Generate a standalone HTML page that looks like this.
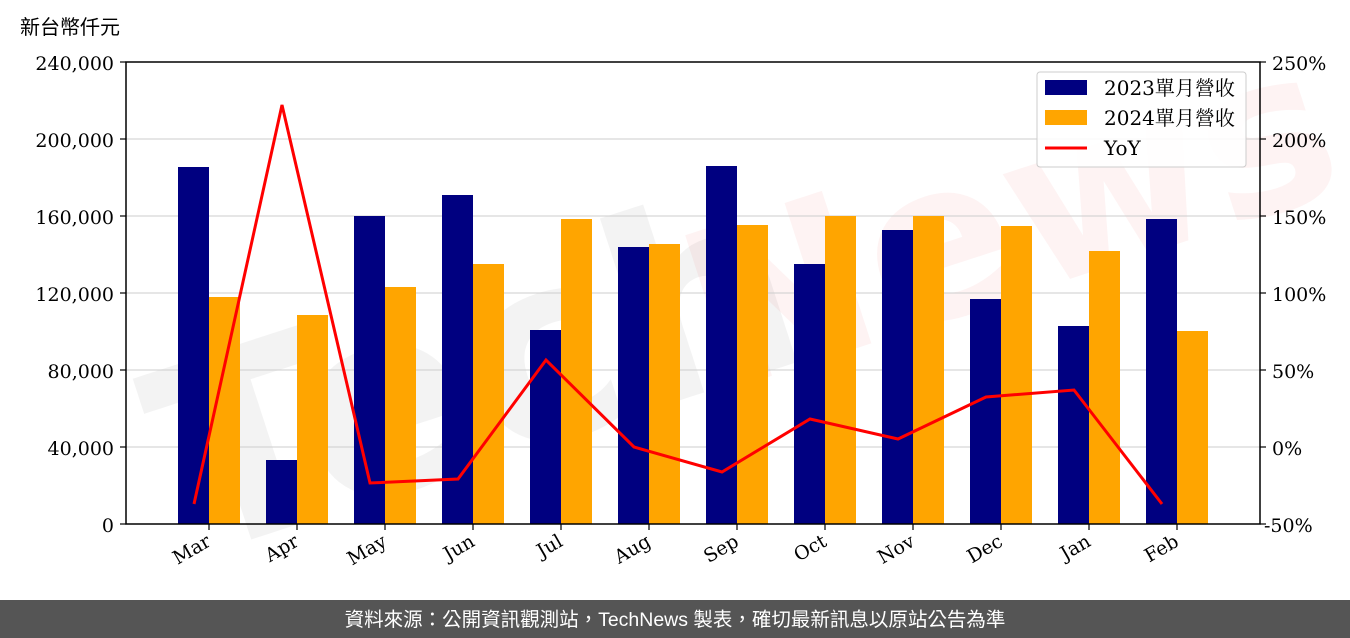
<!DOCTYPE html>
<html><head><meta charset="utf-8"><style>
html,body{margin:0;padding:0;background:#fff;width:1350px;height:638px;overflow:hidden}
</style></head><body>
<svg width="1350" height="638" viewBox="0 0 1350 638" xmlns="http://www.w3.org/2000/svg">
<g font-family="'DejaVu Serif','Liberation Serif',serif" font-size="19" fill="#000">
<text x="20" y="34" font-family="'Liberation Sans','Noto Sans CJK TC',sans-serif" font-size="20">新台幣仟元</text>
<!-- watermark -->
<text x="130" y="420" font-family="'DejaVu Sans',sans-serif" font-size="260" font-weight="bold" fill="#000" opacity="0.045" transform="rotate(-18 600 300)">Tech</text>
<text x="680" y="330" font-family="'DejaVu Sans',sans-serif" font-size="220" font-weight="bold" fill="#e00" opacity="0.045" transform="rotate(-18 900 250)">News</text>
<!-- grid -->
<g stroke="#ccc" stroke-width="1">
<line x1="126" x2="1260" y1="139" y2="139"/><line x1="126" x2="1260" y1="216" y2="216"/>
<line x1="126" x2="1260" y1="293" y2="293"/><line x1="126" x2="1260" y1="370" y2="370"/>
<line x1="126" x2="1260" y1="447" y2="447"/>
</g>
<!-- bars -->
<g fill="#000080">
<rect x="178" y="167" width="31" height="357"/><rect x="266" y="460" width="31" height="64"/>
<rect x="354" y="216" width="31" height="308"/><rect x="442" y="195" width="31" height="329"/>
<rect x="530" y="330" width="31" height="194"/><rect x="618" y="247" width="31" height="277"/>
<rect x="706" y="166" width="31" height="358"/><rect x="794" y="264" width="31" height="260"/>
<rect x="882" y="230" width="31" height="294"/><rect x="970" y="299" width="31" height="225"/>
<rect x="1058" y="326" width="31" height="198"/><rect x="1146" y="219" width="31" height="305"/>
</g>
<g fill="#ffa500">
<rect x="209" y="297" width="31" height="227"/><rect x="297" y="315" width="31" height="209"/>
<rect x="385" y="287" width="31" height="237"/><rect x="473" y="264" width="31" height="260"/>
<rect x="561" y="219" width="31" height="305"/><rect x="649" y="244" width="31" height="280"/>
<rect x="737" y="225" width="31" height="299"/><rect x="825" y="216" width="31" height="308"/>
<rect x="913" y="216" width="31" height="308"/><rect x="1001" y="226" width="31" height="298"/>
<rect x="1089" y="251" width="31" height="273"/><rect x="1177" y="331" width="31" height="193"/>
</g>
<polyline fill="none" stroke="#f00" stroke-width="3" points="194,504 282,105 370,483 458,479 546,360 634,447 722,472 810,419 898,439 986,397 1074,390 1162,504"/>
<!-- axes -->
<rect x="126" y="62" width="1134" height="462" fill="none" stroke="#000" stroke-width="1.5"/>
<g stroke="#000" stroke-width="1.2">
<line x1="120" x2="126" y1="62" y2="62"/><line x1="120" x2="126" y1="139" y2="139"/><line x1="120" x2="126" y1="216" y2="216"/><line x1="120" x2="126" y1="293" y2="293"/><line x1="120" x2="126" y1="370" y2="370"/><line x1="120" x2="126" y1="447" y2="447"/><line x1="120" x2="126" y1="524" y2="524"/>
<line x1="1260" x2="1266" y1="62" y2="62"/><line x1="1260" x2="1266" y1="139" y2="139"/><line x1="1260" x2="1266" y1="216" y2="216"/><line x1="1260" x2="1266" y1="293" y2="293"/><line x1="1260" x2="1266" y1="370" y2="370"/><line x1="1260" x2="1266" y1="447" y2="447"/><line x1="1260" x2="1266" y1="524" y2="524"/>
<line x1="209" x2="209" y1="524" y2="530"/><line x1="297" x2="297" y1="524" y2="530"/><line x1="385" x2="385" y1="524" y2="530"/><line x1="473" x2="473" y1="524" y2="530"/><line x1="561" x2="561" y1="524" y2="530"/><line x1="649" x2="649" y1="524" y2="530"/><line x1="737" x2="737" y1="524" y2="530"/><line x1="825" x2="825" y1="524" y2="530"/><line x1="913" x2="913" y1="524" y2="530"/><line x1="1001" x2="1001" y1="524" y2="530"/><line x1="1089" x2="1089" y1="524" y2="530"/><line x1="1177" x2="1177" y1="524" y2="530"/>
</g>
<g text-anchor="end">
<text x="114" y="70">240,000</text><text x="114" y="147">200,000</text><text x="114" y="224">160,000</text><text x="114" y="301">120,000</text><text x="114" y="378">80,000</text><text x="114" y="455">40,000</text><text x="114" y="532">0</text>
</g>
<g text-anchor="start">
<text x="1272" y="70">250%</text><text x="1272" y="147">200%</text><text x="1272" y="224">150%</text><text x="1272" y="301">100%</text><text x="1272" y="378">50%</text><text x="1272" y="455">0%</text><text x="1264" y="532">-50%</text>
</g>
<g text-anchor="end">
<text transform="translate(212,545) rotate(-30)">Mar</text><text transform="translate(300,545) rotate(-30)">Apr</text><text transform="translate(388,545) rotate(-30)">May</text><text transform="translate(476,545) rotate(-30)">Jun</text><text transform="translate(564,545) rotate(-30)">Jul</text><text transform="translate(652,545) rotate(-30)">Aug</text><text transform="translate(740,545) rotate(-30)">Sep</text><text transform="translate(828,545) rotate(-30)">Oct</text><text transform="translate(916,545) rotate(-30)">Nov</text><text transform="translate(1004,545) rotate(-30)">Dec</text><text transform="translate(1092,545) rotate(-30)">Jan</text><text transform="translate(1180,545) rotate(-30)">Feb</text>
</g>
<!-- legend -->
<rect x="1037" y="72" width="209" height="95" rx="3" fill="#fff" fill-opacity="0.85" stroke="#ccc"/>
<rect x="1045" y="80" width="42" height="15" fill="#000080"/>
<rect x="1045" y="110" width="42" height="15" fill="#ffa500"/>
<line x1="1045" x2="1087" y1="148" y2="148" stroke="#f00" stroke-width="3"/>
<g font-family="'DejaVu Serif','Noto Serif CJK SC',serif" font-size="20">
<text x="1104" y="95">2023單月營收</text><text x="1104" y="125">2024單月營收</text><text x="1104" y="155">YoY</text>
</g>
</g>
<rect x="0" y="600" width="1350" height="38" fill="#555"/>
<text x="675" y="626" text-anchor="middle" fill="#fff" font-family="'Liberation Sans','Noto Sans CJK TC',sans-serif" font-size="19.5">資料來源：公開資訊觀測站，TechNews 製表，確切最新訊息以原站公告為準</text>
</svg>
</body></html>
